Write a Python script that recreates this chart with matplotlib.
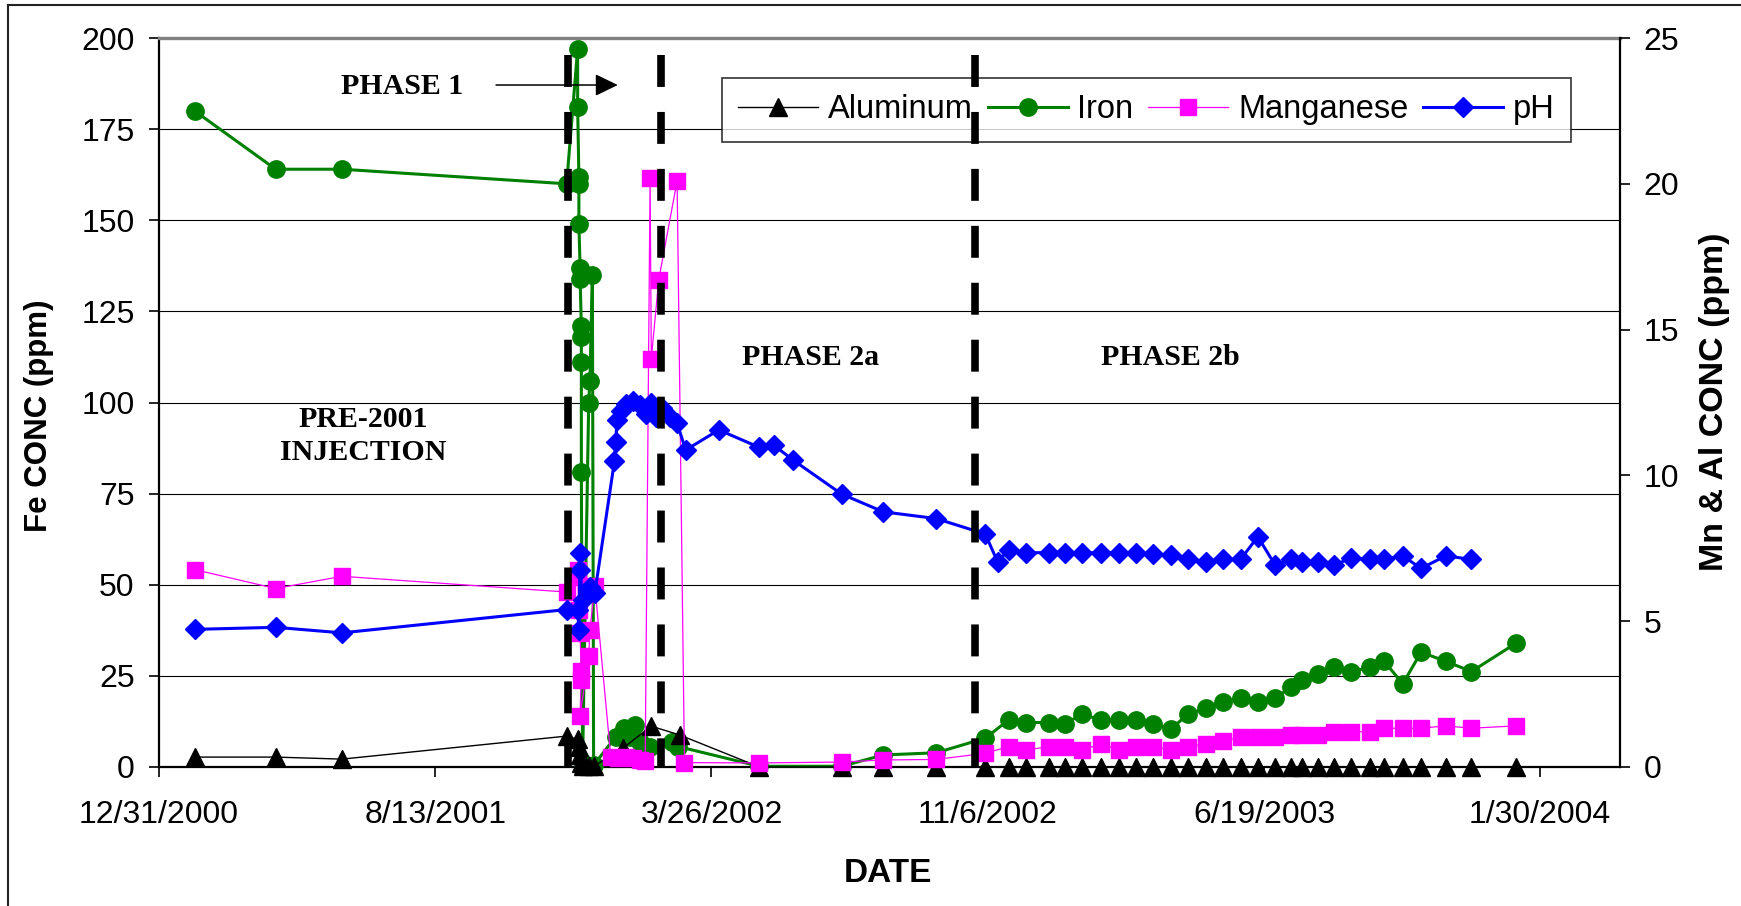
import matplotlib
matplotlib.use("Agg")
import matplotlib.pyplot as plt
import matplotlib.dates as mdates
from matplotlib.patches import FancyArrowPatch
from matplotlib.lines import Line2D
import pandas as pd

plt.rcParams['font.family'] = ['Liberation Sans', 'DejaVu Sans']
plt.rcParams['lines.scale_dashes'] = False

# ---------------- data ----------------
pre_dates = ["2001-01-29", "2001-04-05", "2001-05-29", "2001-11-28"]
p2a_dates = ["2002-05-04", "2002-07-10", "2002-08-13", "2002-09-25"]
p2b_dates = ["2002-11-04", "2002-11-23", "2002-12-07", "2002-12-26", "2003-01-08",
             "2003-01-22", "2003-02-06", "2003-02-21", "2003-03-07", "2003-03-21",
             "2003-04-04", "2003-04-18", "2003-05-03", "2003-05-17", "2003-05-31",
             "2003-06-14", "2003-06-28", "2003-07-11", "2003-07-20", "2003-08-02",
             "2003-08-15", "2003-08-29", "2003-09-13", "2003-09-25", "2003-10-10",
             "2003-10-25", "2003-11-14", "2003-12-05", "2004-01-10"]

# Iron (ppm, left axis)
fe_p1_dates = ["2001-12-07", "2001-12-07", "2001-12-08", "2001-12-08", "2001-12-08",
               "2001-12-09", "2001-12-09", "2001-12-10", "2001-12-10", "2001-12-10",
               "2001-12-10", "2001-12-11", "2001-12-16", "2001-12-17", "2001-12-19",
               "2001-12-20", "2002-01-07", "2002-01-14", "2002-01-19", "2002-01-23",
               "2002-01-27", "2002-02-04", "2002-02-22", "2002-02-27"]
fe_pre = [180, 164, 164, 160]
fe_p1 = [197, 181, 162, 160, 149, 137, 134, 121, 118, 111, 81, 1, 100, 106, 135, 0.5,
         8.3, 10.6, 8.3, 11.5, 6.9, 5.6, 6.9, 5.6]
fe_p2a = [0.2, 0.2, 3.3, 3.9]
fe_p2b = [7.9, 12.9, 12.2, 12.2, 11.9, 14.5, 12.9, 12.9, 12.9, 11.9, 10.3, 14.5, 16.1,
          17.9, 18.8, 17.9, 18.8, 22.0, 23.9, 25.5, 27.3, 26.2, 27.3, 29.0, 22.8, 31.5,
          29.0, 26.2, 33.9]

# Manganese (ppm, right axis)
mn_p1_dates = ["2001-12-07", "2001-12-07", "2001-12-08", "2001-12-09", "2001-12-10",
               "2001-12-10", "2001-12-09", "2001-12-16", "2001-12-17", "2001-12-21",
               "2002-01-03", "2002-01-09", "2002-01-15", "2002-01-21", "2002-01-27",
               "2002-01-31", "2002-02-04", "2002-02-05", "2002-02-11", "2002-02-26",
               "2002-03-04"]
mn_pre = [6.77, 6.12, 6.54, 6.0]
mn_p1 = [6.75, 6.5, 5.4, 4.6, 3.0, 3.3, 1.75, 3.8, 4.7, 6.2, 0.35, 0.3, 0.35, 0.3, 0.25,
         0.2, 20.2, 14.0, 16.7, 20.1, 0.15]
mn_p2a = [0.14, 0.17, 0.24, 0.26]
mn_p2b = [0.47, 0.70, 0.58, 0.70, 0.70, 0.58, 0.79, 0.58, 0.70, 0.70, 0.58, 0.70, 0.79,
          0.90, 1.02, 1.02, 1.02, 1.10, 1.10, 1.10, 1.21, 1.21, 1.21, 1.33, 1.33, 1.33,
          1.41, 1.33, 1.41]

# pH (right axis)
ph_p1_dates = ["2001-12-07", "2001-12-08", "2001-12-09", "2001-12-09", "2001-12-11",
               "2001-12-17", "2001-12-21", "2002-01-06", "2002-01-07", "2002-01-08",
               "2002-01-11", "2002-01-15", "2002-01-21", "2002-01-27", "2002-02-01",
               "2002-02-05", "2002-02-09", "2002-02-14", "2002-02-20", "2002-02-26",
               "2002-03-05", "2002-04-01", "2002-05-04", "2002-05-16", "2002-05-31",
               "2002-07-10", "2002-08-13", "2002-09-25"]
ph_pre = [4.72, 4.79, 4.6, 5.4]
ph_p1 = [5.38, 4.7, 7.34, 6.76, 5.73, 6.18, 5.97, 10.5, 11.15, 11.9, 12.2, 12.45, 12.55,
         12.4, 12.1, 12.5, 12.0, 12.3, 12.0, 11.79, 10.87, 11.56, 10.96, 11.03, 10.54,
         9.36, 8.75, 8.52]
ph_p2b_dates = ["2002-11-04", "2002-11-14"] + p2b_dates[1:28]
ph_p2b = [7.99, 7.04, 7.44, 7.35, 7.35, 7.35, 7.35, 7.35, 7.35, 7.35, 7.30, 7.27, 7.12,
          7.04, 7.12, 7.12, 7.90, 6.93, 7.12, 7.04, 7.04, 6.93, 7.16, 7.12, 7.12, 7.24,
          6.81, 7.24, 7.12]

# Aluminum (ppm, right axis)
al_p1_dates = ["2001-12-07", "2001-12-08", "2001-12-09", "2001-12-10", "2001-12-11",
               "2001-12-16", "2001-12-20", "2002-01-13", "2002-02-05", "2002-02-28"]
al_pre = [0.34, 0.34, 0.27, 1.06]
al_p1 = [0.95, 0.7, 0.4, 0.15, 0.05, 0.02, 0.02, 0.65, 1.4, 1.1]
al_p2a = [0, 0, 0, 0]
al_p2b = [0] * 29

phase_lines = ["2001-11-29", "2002-02-13", "2002-10-27"]
xtick_dates = ["2000-12-31", "2001-08-13", "2002-03-26", "2002-11-06", "2003-06-19", "2004-01-30"]
xtick_labels = ["12/31/2000", "8/13/2001", "3/26/2002", "11/6/2002", "6/19/2003", "1/30/2004"]
x_range = ["2000-12-31", "2004-04-04"]
left_ticks = [0, 25, 50, 75, 100, 125, 150, 175, 200]
right_ticks = [0, 5, 10, 15, 20, 25]


def d(lst):
    return mdates.date2num(pd.to_datetime(lst).to_pydatetime())


fe_x = d(pre_dates + fe_p1_dates + p2a_dates + p2b_dates)
fe_y = fe_pre + fe_p1 + fe_p2a + fe_p2b
mn_x = d(pre_dates + mn_p1_dates + p2a_dates + p2b_dates)
mn_y = mn_pre + mn_p1 + mn_p2a + mn_p2b
ph_x = d(pre_dates + ph_p1_dates + ph_p2b_dates)
ph_y = ph_pre + ph_p1 + ph_p2b
al_x = d(pre_dates + al_p1_dates + p2a_dates + p2b_dates)
al_y = al_pre + al_p1 + al_p2a + al_p2b

# ---------------- figure ----------------
W, H = 1741, 906
fig = plt.figure(figsize=(W / 100, H / 100), dpi=100)
fig.patch.set_facecolor('white')
ax1 = fig.add_axes([159 / W, 1 - 767 / H, 1461 / W, 729 / H])
ax2 = ax1.twinx()

ax1.set_xlim(d(x_range)[0], d(x_range)[1])
ax1.set_ylim(0, 200)
ax2.set_ylim(0, 25)

ax1.set_yticks(left_ticks)
ax2.set_yticks(right_ticks)
ax1.set_xticks(d(xtick_dates))
ax1.set_xticklabels(xtick_labels)

ax1.yaxis.grid(True, color='black', lw=0.8)
ax1.set_axisbelow(True)

for sp in ['left', 'bottom']:
    ax1.spines[sp].set_linewidth(1.6)
    ax1.spines[sp].set_color('black')
ax1.spines['right'].set_visible(False)
ax1.spines['top'].set_color('#808080')
ax1.spines['top'].set_linewidth(2.4)
ax2.spines['left'].set_visible(False)
ax2.spines['top'].set_visible(False)
ax2.spines['bottom'].set_visible(False)
ax2.spines['right'].set_linewidth(1.6)

ax1.tick_params(axis='y', direction='out', length=7.5, width=1.2, labelsize=23, pad=10)
ax1.tick_params(axis='x', direction='out', length=7.5, width=1.2, labelsize=23, pad=16)
ax2.tick_params(axis='y', direction='out', length=7, width=1.2, labelsize=23, pad=10)

fe_line, = ax1.plot(fe_x, fe_y, color='#008000', lw=2.2, marker='o', ms=12.5,
                    mec='#008000', mfc='#008000', clip_on=False, zorder=3)
al_line, = ax2.plot(al_x, al_y, color='black', lw=1.0, marker='^', ms=12.5,
                    mec='black', mfc='black', clip_on=False, zorder=3)
mn_line, = ax2.plot(mn_x, mn_y, color='#FF00FF', lw=0.9, marker='s', ms=12,
                    mec='#FF00FF', mfc='#FF00FF', clip_on=False, zorder=3.1)
ph_line, = ax2.plot(ph_x, ph_y, color='#0000FF', lw=2.2, marker='D', ms=10.3,
                    mec='#0000FF', mfc='#0000FF', clip_on=False, zorder=3.2)

leg = ax2.legend([al_line, fe_line, mn_line, ph_line],
                 ["Aluminum", "Iron", "Manganese", "pH"],
                 loc='upper left', bbox_to_anchor=(722 / W, 1 - 78 / H),
                 bbox_transform=fig.transFigure, ncol=4, frameon=True,
                 fancybox=False, edgecolor='black', fontsize=23.5,
                 handlelength=2.45, handletextpad=0.3, columnspacing=0.45,
                 borderpad=0.5, borderaxespad=0)
leg.get_frame().set_linewidth(1.2)
leg.set_zorder(5)

# phase boundary dashed lines (drawn above legend)
for px in d(phase_lines):
    ax2.plot([px, px], [24.42, 0], color='black', lw=5.5, dashes=(23, 18),
             dash_capstyle='butt', solid_capstyle='butt', clip_on=False, zorder=10)

# annotations
serif = dict(family='Liberation Serif', fontweight='bold', fontsize=21.5)
ax2.text(0.1667, 0.933, "PHASE 1", transform=ax2.transAxes, ha='center', va='center',
         zorder=11, **serif)
ax2.text(0.1396, 0.4543, "PRE-2001\nINJECTION", transform=ax2.transAxes, ha='center',
         va='center', linespacing=1.3, zorder=11, **serif)
ax2.text(0.4459, 0.5617, "PHASE 2a", transform=ax2.transAxes, ha='center', va='center',
         zorder=11, **serif)
ax2.text(0.692, 0.5617, "PHASE 2b", transform=ax2.transAxes, ha='center', va='center',
         zorder=11, **serif)
arrow = FancyArrowPatch((0.2307, 0.9355), (0.3140, 0.9355), transform=ax2.transAxes,
                        arrowstyle='-|>,head_length=14,head_width=6.8', mutation_scale=1,
                        color='black', lw=1.1, zorder=11, shrinkA=0, shrinkB=0)
ax2.add_patch(arrow)

# axis titles
fig.text(39 / W, 1 - 416 / H, "Fe CONC (ppm)", rotation=90, ha='center', va='center',
         fontsize=22.5, fontweight='bold')
fig.text(1715 / W, 1 - 402 / H, "Mn & Al CONC (ppm)", rotation=90, ha='center',
         va='center', fontsize=24.5, fontweight='bold')
fig.text(888 / W, 1 - 873 / H, "DATE", ha='center', va='center', fontsize=24,
         fontweight='bold')

# chart-area border (left and top edges visible)
fig.add_artist(Line2D([8 / W, 8 / W], [0, 1 - 5 / H], color='#222222', lw=1.5,
                      transform=fig.transFigure))
fig.add_artist(Line2D([8 / W, 1], [1 - 5 / H, 1 - 5 / H], color='#222222', lw=1.5,
                      transform=fig.transFigure))

fig.savefig("out.png", dpi=100, facecolor='white')
